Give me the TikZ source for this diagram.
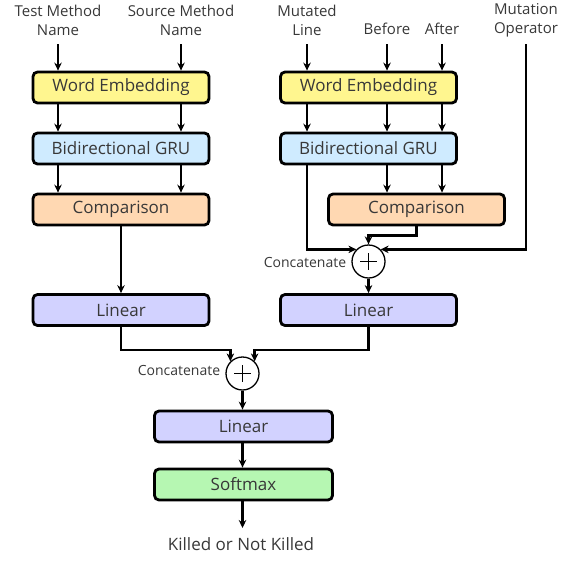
\documentclass[tikz,border=0pt]{standalone}
\usepackage{fontspec}
\setmainfont{Open Sans}
\usetikzlibrary{arrows.meta,calc}
\definecolor{txt}{HTML}{383838}
\definecolor{cyel}{HTML}{FFF68F}
\definecolor{cblu}{HTML}{CFEBFF}
\definecolor{cora}{HTML}{FFD8B2}
\definecolor{clav}{HTML}{D2D2FF}
\definecolor{cgrn}{HTML}{B6F7B2}
\begin{document}
\begin{tikzpicture}[x=1pt,y=-1pt,
  box/.style={draw=black, line width=2.8pt, rounded corners=4.5pt, minimum width=176pt, minimum height=31pt, inner sep=0pt, font=\fontsize{17}{20}\selectfont, text=txt},
  lab/.style={font=\fontsize{15}{19}\selectfont, text=txt, align=center, inner sep=0pt},
  conn/.style={line width=2.4pt, -{Stealth[length=8pt,width=7.5pt]}},
  plus/.style={circle, draw=black, line width=1.3pt, minimum size=33pt, inner sep=0pt, fill=white}]
\useasboundingbox (0,0) rectangle (577,560);
% inputs
\node[lab] (t1) at (58,20) {Test Method\\Name};
\node[lab] (t2) at (181,20) {Source Method\\Name};
\node[lab] (t3) at (307,20) {Mutated\\Line};
\node[lab] (t4) at (387,29) {Before};
\node[lab] (t5) at (442,29) {After};
\node[lab] (t6) at (526,20) {Mutation\\Operator};
\coordinate (in1) at (58,44);
\coordinate (in2) at (181,44);
\coordinate (in3) at (307,44);
\coordinate (in4) at (387,44);
\coordinate (in5) at (442,44);
\coordinate (in6) at (526,44);
% left column
\node[box, fill=cyel] (we1) at (121,87.5) {Word Embedding};
\node[box, fill=cblu] (gru1) at (121,148.5) {Bidirectional GRU};
\node[box, fill=cora] (cmp1) at (121,209.5) {Comparison};
% right column
\node[box, fill=cyel] (we2) at (368.5,87.5) {Word Embedding};
\node[box, fill=cblu] (gru2) at (368.5,148.5) {Bidirectional GRU};
\node[box, fill=cora] (cmp2) at (416.5,209.5) {Comparison};
\node[plus] (c1) at (368.5,261.5) {};
\draw[line width=1.3pt] ($(c1)+(-8.5,0)$) -- ($(c1)+(8.5,0)$) ($(c1)+(0,-8.5)$) -- ($(c1)+(0,8.5)$);
\node[lab, font=\fontsize{14}{17}\selectfont, anchor=east] (cat1) at ($(c1.west)+(-5,1)$) {Concatenate};
% linears
\node[box, fill=clav] (lin1) at (121,310) {Linear};
\node[box, fill=clav] (lin2) at (368.5,310) {Linear};
\node[plus] (c2) at (242.5,373.5) {};
\draw[line width=1.3pt] ($(c2)+(-8.5,0)$) -- ($(c2)+(8.5,0)$) ($(c2)+(0,-8.5)$) -- ($(c2)+(0,8.5)$);
\node[lab, font=\fontsize{14}{17}\selectfont, anchor=east] (cat2) at ($(c2.west)+(-5,-3)$) {Concatenate};
\node[box, fill=clav, minimum width=178pt] (lin3) at (243.5,426.5) {Linear};
\node[box, fill=cgrn, minimum width=178pt] (soft) at (243.5,484.5) {Softmax};
\coordinate (out) at (242.5,528);
\node[lab, font=\fontsize{17}{20}\selectfont] (res) at (241,544) {Killed or Not Killed};
% left connectors
\draw[conn] (in1) -- (we1.north -| in1);
\draw[conn] (in2) -- (we1.north -| in2);
\draw[conn] (we1.south -| in1) -- (gru1.north -| in1);
\draw[conn] (we1.south -| in2) -- (gru1.north -| in2);
\draw[conn] (gru1.south -| in1) -- (cmp1.north -| in1);
\draw[conn] (gru1.south -| in2) -- (cmp1.north -| in2);
\draw[conn] (cmp1.south) -- (lin1.north);
% right connectors
\draw[conn] (in3) -- (we2.north -| in3);
\draw[conn] (in4) -- (we2.north -| in4);
\draw[conn] (in5) -- (we2.north -| in5);
\draw[conn] (we2.south -| in3) -- (gru2.north -| in3);
\draw[conn] (we2.south -| in4) -- (gru2.north -| in4);
\draw[conn] (we2.south -| in5) -- (gru2.north -| in5);
\draw[conn] (gru2.south -| in4) -- (cmp2.north -| in4);
\draw[conn] (gru2.south -| in5) -- (cmp2.north -| in5);
\draw[conn] (gru2.south -| in3) |- (c1.north west);
\draw[conn] (cmp2.south) -- ++(0,9) -| (c1.north);
\draw[conn] (in6) |- (c1.north east);
\draw[conn] (c1.south) -- (c1.south |- lin2.north);
% bottom
\draw[conn] (lin1.south) -- ++(0,23) -| (c2.north west);
\draw[conn] (lin2.south) -- ++(0,23) -| (c2.north east);
\draw[conn] (c2.south) -- (c2.south |- lin3.north);
\draw[conn] (lin3.south -| c2) -- (soft.north -| c2);
\draw[conn] (soft.south -| out) -- (out);
\end{tikzpicture}
\end{document}
